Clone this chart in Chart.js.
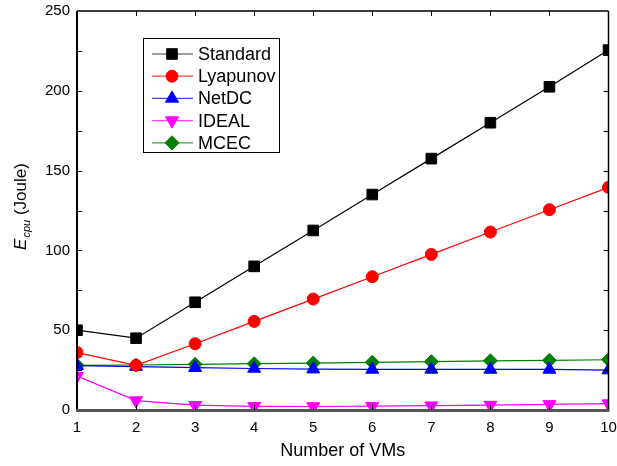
<!DOCTYPE html>
<html>
<head>
<meta charset="utf-8">
<script src="https://cdn.jsdelivr.net/npm/chart.js@4"></script>
<style>
  html, body { margin: 0; padding: 0; background: #fff; }
  #wrap { width: 617px; height: 466px; }
</style>
</head>
<body>
<div id="wrap"><canvas id="myChart" width="617" height="466"></canvas></div>
<script>
var vms = ['1', '2', '3', '4', '5', '6', '7', '8', '9', '10'];
var standard = [50, 45, 67.5, 90, 112.5, 135, 157.5, 180, 202.5, 225.5];
var lyapunov = [36, 28, 41.5, 55.5, 69.5, 83.5, 97.5, 111.5, 125.5, 139.5];
var netdc    = [27.8, 27.2, 26.5, 26, 25.6, 25.4, 25.4, 25.4, 25.4, 25];
var ideal    = [21.3, 5.9, 3, 2.3, 2.2, 2.4, 2.7, 3.1, 3.5, 4];
var mcec     = [28, 28.2, 28.6, 29, 29.4, 29.9, 30.3, 30.8, 31.1, 31.5];
var yTicks   = [0, 50, 100, 150, 200, 250];

var font = 'Arial, "Liberation Sans", sans-serif';

function series(label, data, color, style, radius, rotation) {
    return {
        label: label,
        data: data,
        borderColor: color,
        backgroundColor: color,
        borderWidth: 1.2,
        pointStyle: style,
        pointRadius: radius,
        pointHoverRadius: radius,
        pointRotation: rotation || 0,
        pointBorderWidth: 1,
        tension: 0,
        clip: 0
    };
}

// no extra room for the outer tick labels
function noPad(scale) {
    scale.paddingLeft = 0;
    scale.paddingRight = 0;
    scale.paddingTop = 0;
    scale.paddingBottom = 0;
}

// box legend drawn inside the plot, line + marker per entry
var boxLegend = {
    id: 'boxLegend',
    afterDraw: function(chart) {
        var ctx = chart.ctx;
        var x0 = 143, y0 = 38, w = 136, h = 114;
        ctx.save();
        ctx.fillStyle = '#fff';
        ctx.fillRect(x0, y0, w, h);
        ctx.strokeStyle = '#000';
        ctx.lineWidth = 1;
        ctx.strokeRect(x0 + 0.5, y0 + 0.5, w, h);
        chart.data.datasets.forEach(function(ds, i) {
            var cy = 54 + i * 22.2;
            ctx.strokeStyle = ds.borderColor;
            ctx.globalAlpha = 0.75;
            ctx.lineWidth = 1.2;
            ctx.beginPath();
            ctx.moveTo(152, cy);
            ctx.lineTo(193, cy);
            ctx.stroke();
            ctx.globalAlpha = 1;
            ctx.fillStyle = ds.backgroundColor;
            ctx.strokeStyle = ds.borderColor;
            ctx.lineWidth = 1;
            Chart.helpers.drawPoint(ctx, {
                pointStyle: ds.pointStyle,
                radius: ds.pointRadius,
                rotation: ds.pointRotation,
                borderWidth: 1
            }, 172, cy);
            ctx.fillStyle = '#000';
            ctx.font = '18px ' + font;
            ctx.textBaseline = 'middle';
            ctx.textAlign = 'left';
            ctx.fillText(ds.label, 198, cy + 1);
        });
        ctx.restore();
    }
};

// frame with inward ticks and the y axis title with subscript
var frame = {
    id: 'frame',
    afterDraw: function(chart) {
        var ctx = chart.ctx, a = chart.chartArea;
        var xs = chart.scales.x, ys = chart.scales.y;
        ctx.save();
        ctx.strokeStyle = '#000';
        ctx.lineWidth = 1.5;
        ctx.beginPath();
        ctx.moveTo(a.left, a.top); ctx.lineTo(a.right, a.top);
        ctx.moveTo(a.right, a.top); ctx.lineTo(a.right, a.bottom);
        ctx.stroke();
        ctx.lineWidth = 2;
        ctx.beginPath();
        ctx.moveTo(a.left, a.top); ctx.lineTo(a.left, a.bottom);
        ctx.stroke();
        ctx.strokeStyle = '#555';
        ctx.lineWidth = 3;
        ctx.beginPath();
        ctx.moveTo(a.left - 1, a.bottom + 0.5); ctx.lineTo(a.right + 1, a.bottom + 0.5);
        ctx.stroke();

        ctx.strokeStyle = '#000';
        ctx.lineWidth = 1;
        ctx.beginPath();
        for (var v = 25; v < 250; v += 25) {
            var py = Math.round(ys.getPixelForValue(v)) + 0.5;
            ctx.moveTo(a.left, py); ctx.lineTo(a.left + 5, py);
            ctx.moveTo(a.right, py); ctx.lineTo(a.right - 5, py);
        }
        for (var i = 1; i < vms.length - 1; i++) {
            var px = Math.round(xs.getPixelForValue(i)) + 0.5;
            ctx.moveTo(px, a.top); ctx.lineTo(px, a.top + 5);
            ctx.moveTo(px, a.bottom); ctx.lineTo(px, a.bottom - 5);
        }
        ctx.stroke();

        // E_cpu (Joule)
        ctx.translate(26, (a.top + a.bottom) / 2 - 4);
        ctx.rotate(-Math.PI / 2);
        ctx.fillStyle = '#000';
        ctx.textBaseline = 'alphabetic';
        ctx.textAlign = 'left';
        var f1 = 'italic 17px ' + font, f2 = 'italic 11px ' + font, f3 = '17px ' + font;
        ctx.font = f1; var wE = ctx.measureText('E').width;
        ctx.font = f2; var wS = ctx.measureText('cpu').width;
        ctx.font = f3; var wJ = ctx.measureText(' (Joule)').width;
        var start = -(wE + wS + 1 + wJ) / 2;
        ctx.font = f1; ctx.fillText('E', start, 0);
        ctx.font = f2; ctx.fillText('cpu', start + wE + 1, 4);
        ctx.font = f3; ctx.fillText(' (Joule)', start + wE + wS + 1, 0);
        ctx.restore();
    }
};

var ctx = document.getElementById('myChart').getContext('2d');

var myChart = new Chart(ctx, {
    type: 'line',
    data: {
        labels: vms,
        datasets: [
            series('Standard', standard, '#000000', 'rect', 7.5),
            series('Lyapunov', lyapunov, '#ff0000', 'circle', 6),
            series('NetDC', netdc, '#0000ff', 'triangle', 7.5),
            series('IDEAL', ideal, '#ff00ff', 'triangle', 7.5, 180),
            series('MCEC', mcec, '#008000', 'rectRot', 7)
        ]
    },
    options: {
        responsive: false,
        animation: false,
        layout: { padding: { left: 0, top: 11, right: 7, bottom: 0 } },
        plugins: {
            legend: { display: false },
            tooltip: { enabled: false }
        },
        scales: {
            x: {
                offset: false,
                grid: { display: false, drawTicks: false },
                border: { display: false },
                ticks: { color: '#000', font: { family: font, size: 15 }, padding: 9, maxRotation: 0, autoSkip: false },
                title: { display: true, text: 'Number of VMs', color: '#000', font: { family: font, size: 18 }, padding: { top: 10 } },
                afterFit: function(scale) { scale.height = 56; noPad(scale); }
            },
            y: {
                min: 0,
                max: 250,
                grid: { display: false, drawTicks: false },
                border: { display: false },
                afterBuildTicks: function(scale) {
                    scale.ticks = yTicks.map(function(v) { return { value: v }; });
                },
                ticks: { color: '#000', font: { family: font, size: 15 }, padding: 7 },
                afterFit: function(scale) { scale.width = 77; noPad(scale); }
            }
        }
    },
    plugins: [frame, boxLegend]
});
</script>
</body>
</html>
